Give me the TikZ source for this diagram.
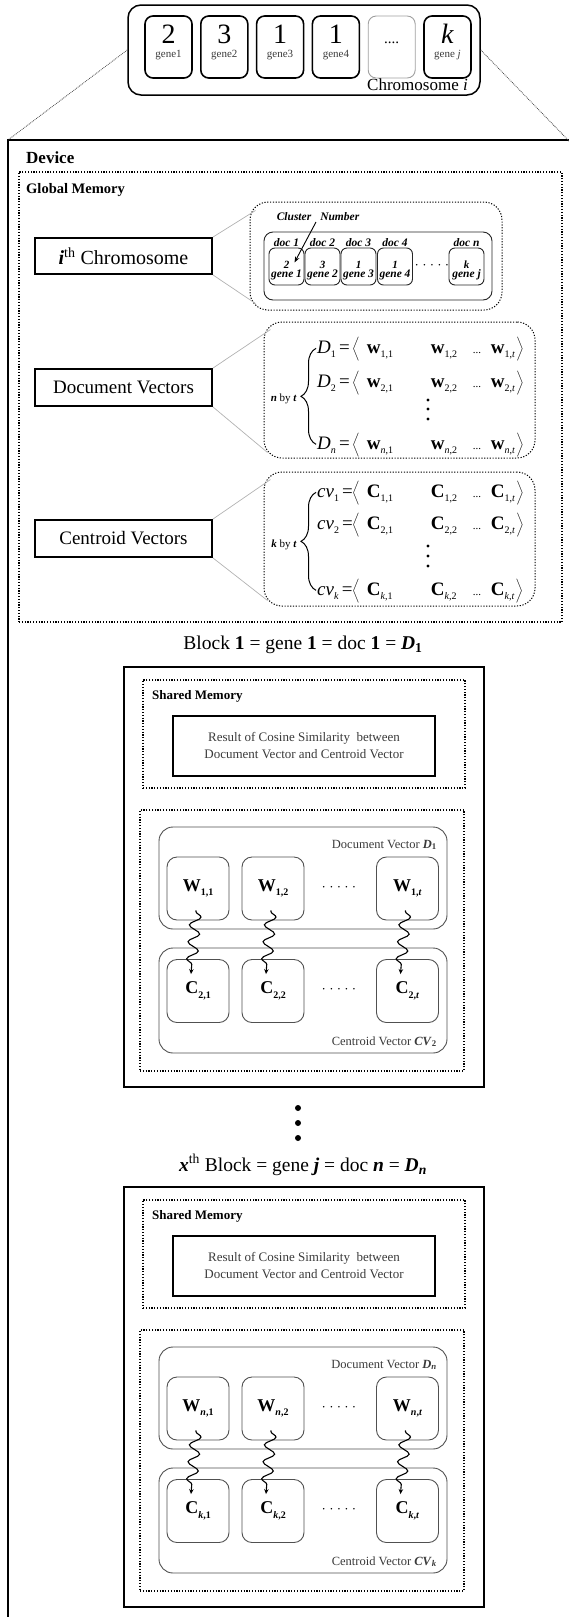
\documentclass[tikz,border=0pt]{standalone}
\usepackage{fontspec}
\setmainfont{Liberation Serif}
\usepackage{tikz}
\usetikzlibrary{arrows.meta,calc,positioning,decorations.pathmorphing,decorations.pathreplacing}
\definecolor{boxgray}{HTML}{505050}
\definecolor{txtgray}{HTML}{3A3A3A}
\newcommand{\fsz}[1]{\fontsize{#1}{#1}\selectfont}
\newcommand{\lsub}[1]{\raisebox{-0.25em}{\fsz{10}#1}}
\newcommand{\vrow}[4]{\makebox[35pt][l]{#1}$\left\langle\rule[-7pt]{0pt}{24pt}\right.$\hspace{6pt}\makebox[64pt][l]{#2}\makebox[42pt][l]{#3}\makebox[18pt][l]{\fsz{11}...}#4$\left.\rule[-7pt]{0pt}{24pt}\right\rangle$}

\begin{document}
\begin{tikzpicture}[x=1pt, y=-1pt,
    solidbox/.style={draw, line width=1.5pt, inner sep=0pt},
    dotbox/.style={draw, line width=1.1pt, dash pattern=on 1.2pt off 1.6pt, inner sep=0pt},
    genebox/.style={draw, line width=1.6pt, rounded corners=8pt, minimum width=47, minimum height=62, inner sep=0pt},
    dotgene/.style={genebox, draw=gray!75, line width=0.9pt},
    roundbox/.style={draw=boxgray, line width=0.9pt, rounded corners=#1, inner sep=0pt},
    roundbox/.default=12pt,
    ccell/.style={roundbox=6pt, draw=black!85, minimum width=35, minimum height=37},
    vcell/.style={roundbox=10pt, minimum width=62, minimum height=63, font=\fsz{18}\bfseries},
    zoomline/.style={draw=gray!60, line width=0.7pt},
    zoomdots/.style={draw=black!75, line width=0.8pt, dash pattern=on 0.8pt off 1pt},
    snk/.style={-{Stealth[length=5pt,width=4.5pt]}, line width=1.1pt, decorate,
      decoration={snake, amplitude=5.5pt, segment length=17pt, pre length=1pt, post length=3pt}},
    brc/.style={line width=1pt, decorate, decoration={brace, amplitude=15pt}},
    lbl/.style={inner sep=0pt, font=#1},
    vdot/.style={circle, fill, inner sep=0pt, minimum size=#1},
    sz/.style 2 args={minimum width=#1, minimum height=#2}]
\useasboundingbox (0,0) rectangle (569,1617);

% chromosome i
\node[solidbox, rounded corners=13pt, sz={352}{90}] (chrom) at (304,50) {};
\foreach \val/\g/\st [count=\i] in {2/gene1/genebox, 3/gene2/genebox, 1/gene3/genebox, 1/gene4/genebox,
    {\fsz{15}....}/{}/dotgene, {\textit{k}}/{gene \textit{j}}/genebox} {
  \node[\st] (gb\i) at ({168.5+55.8*(\i-1)},47) {};
  \node[lbl=\fsz{28}, anchor=base] (gv\i) at ($(gb\i.center)+(0,-4)$) {\val};
  \node[lbl=\fsz{11}, text=txtgray, anchor=base] (gl\i) at ($(gb\i.center)+(0,10)$) {\g};
}
\node[lbl=\fsz{17}, anchor=base east] (chromlbl) at (468,90) {Chromosome \textit{i}};

% device
\coordinate (devtl) at (8,140);
\coordinate (devtr) at (569,141);
\draw[line width=1.4pt] (585,140) -- (devtl) -- (8,1640);
\draw[zoomdots] (chrom.west) -- (devtl);
\draw[zoomdots] (chrom.east) -- (devtr);
\node[lbl=\fsz{17}\bfseries, anchor=base west] (device) at (26,163) {Device};

% global memory
\node[dotbox, sz={543}{450}] (gmem) at (290.5,397) {};
\node[lbl=\fsz{14.5}\bfseries, anchor=base west] (gmemlbl) at (26,193) {Global Memory};

\node[solidbox, line width=1.8pt, sz={177}{36}, font=\fsz{20}] (ichrom) at (123.5,256) {\textbf{\textit{i}}\textsuperscript{th} Chromosome};
\node[dotbox, line width=1pt, rounded corners=18pt, sz={252}{108}] (chromz) at (376,256) {};
\node[roundbox=9pt, draw=black!85, sz={228}{68}] (chromrow) at (378,266) {};
\draw[zoomline] (ichrom.north east) -- ($(chromz.north west)+(6,9)$);
\draw[zoomline] (ichrom.south east) -- ($(chromz.south west)+(6,-7)$);
\foreach \dc/\val/\g/\x [count=\i] in {{doc 1}/2/{gene 1}/286.5, {doc 2}/3/{gene 2}/322.5,
    {doc 3}/1/{gene 3}/358.5, {doc 4}/1/{gene 4}/395, {doc n}/k/{gene j}/466.5} {
  \node[ccell] (g\i) at (\x,266.5) {};
  \node[lbl=\fsz{11.5}\bfseries\itshape, anchor=base] (dl\i) at (\x,246) {\dc};
  \node[lbl=\fsz{11}\bfseries\itshape, anchor=base] (gn\i) at (\x,268) {\val};
  \node[lbl=\fsz{11.5}\bfseries\itshape, anchor=base] (gg\i) at (\x,277) {\g};
}
\node[lbl=\fsz{13}] (gdots) at (432,267) {· · · · ·};
\node[lbl=\fsz{11.5}\bfseries\itshape] (clus) at (318,217) {Cluster\hspace{9pt}Number};
\coordinate (clarr) at (316,222);
\draw[-{Stealth[length=6pt,width=4.5pt]}, line width=0.9pt] (clarr) -- ($(g1.center)+(8,-4)$);

% document vectors
\node[solidbox, line width=1.8pt, sz={177}{37}, font=\fsz{19}] (docv) at (123.5,387.5) {Document Vectors};
\node[dotbox, line width=1pt, rounded corners=18pt, sz={271}{136}] (docz) at (399.5,390) {};
\draw[zoomline] (docv.north east) -- ($(docz.north west)+(7,8)$);
\draw[zoomline] (docv.south east) -- ($(docz.south west)+(4,-6)$);
\foreach \lh/\wa/\wb/\wc/\yy [count=\rr] in {
    {\textit{D}\lsub{1}\,=}/{\textbf{w}\lsub{1,1}}/{\textbf{w}\lsub{1,2}}/{\textbf{w}\lsub{1,\textit{t}}}/353,
    {\textit{D}\lsub{2}\,=}/{\textbf{w}\lsub{2,1}}/{\textbf{w}\lsub{2,2}}/{\textbf{w}\lsub{2,\textit{t}}}/387,
    {\textit{D}\lsub{\textit{n}}\,=}/{\textbf{w}\lsub{\textit{n},1}}/{\textbf{w}\lsub{\textit{n},2}}/{\textbf{w}\lsub{\textit{n},\textit{t}}}/449}
  \node[lbl=\fsz{19}, anchor=base west] (dr\rr) at (317,\yy) {\vrow{\lh}{\wa}{\wb}{\wc}};
\foreach \yy [count=\kk] in {400,409,419}
  \node[vdot=3.4pt] (ddot\kk) at (428,\yy) {};
\draw[brc] ($(dr3.west)+(-1,0)$) -- ($(dr1.west)+(-1,0)$);
\node[lbl=\fsz{11}, anchor=east] (dnbt) at (297,399) {\textbf{\textit{n}} by \textbf{\textit{t}}};

% centroid vectors
\node[solidbox, line width=1.8pt, sz={177}{37}, font=\fsz{19}] (cenv) at (123.5,538.5) {Centroid Vectors};
\node[dotbox, line width=1pt, rounded corners=18pt, sz={271}{134}] (cenz) at (399.5,539) {};
\draw[zoomline] (cenv.north east) -- ($(cenz.north west)+(7,8)$);
\draw[zoomline] (cenv.south east) -- ($(cenz.south west)+(4,-6)$);
\foreach \lh/\wa/\wb/\wc/\yy [count=\rr] in {
    {\textit{cv}\lsub{1}\,=}/{\textbf{C}\lsub{1,1}}/{\textbf{C}\lsub{1,2}}/{\textbf{C}\lsub{1,\textit{t}}}/497,
    {\textit{cv}\lsub{2}\,=}/{\textbf{C}\lsub{2,1}}/{\textbf{C}\lsub{2,2}}/{\textbf{C}\lsub{2,\textit{t}}}/529,
    {\textit{cv}\lsub{\textit{k}}\,=}/{\textbf{C}\lsub{\textit{k},1}}/{\textbf{C}\lsub{\textit{k},2}}/{\textbf{C}\lsub{\textit{k},\textit{t}}}/595}
  \node[lbl=\fsz{19}, anchor=base west] (cr\rr) at (317,\yy) {\vrow{\lh}{\wa}{\wb}{\wc}};
\foreach \yy [count=\kk] in {546,556,566}
  \node[vdot=3.4pt] (cdot\kk) at (428,\yy) {};
\draw[brc] ($(cr3.west)+(-1,0)$) -- ($(cr1.west)+(-1,0)$);
\node[lbl=\fsz{11}, anchor=east] (cnbt) at (297,545) {\textbf{\textit{k}} by \textbf{\textit{t}}};

% blocks
\foreach \off/\ttl/\dl/\cl/\wrow/\crow [count=\bk] in {
    0/{Block \textbf{1} = gene \textbf{1} = doc \textbf{1} = \textbf{\textit{D}\textsubscript{1}}}/{\textbf{\textit{D}}\textsubscript{\textbf{1}}}/{\textbf{\textit{CV}}\textsubscript{\textbf{2}}}/1/2,
    520/{\textbf{\textit{x}}\textsuperscript{th} Block = gene \textbf{\textit{j}} = doc \textbf{\textit{n}} = \textbf{\textit{D}\textsubscript{\textit{n}}}}/{\textbf{\textit{D}}\textsubscript{\textbf{\textit{n}}}}/{\textbf{\textit{CV}}\textsubscript{\textbf{\textit{k}}}}/\textit{n}/\textit{k}} {
  \node[lbl=\fsz{19.5}] (ttl\bk) at (303,645+\off) {\ttl};
  \node[solidbox, line width=1.4pt, sz={360}{420}] (blk\bk) at (304,877+\off) {};
  \node[dotbox, sz={322}{108}] (shm\bk) at (304,734+\off) {};
  \node[lbl=\fsz{13}\bfseries, anchor=base west] (shmlbl\bk) at (152,699+\off) {Shared Memory};
  \node[solidbox, line width=1.4pt, sz={262}{60}, align=center, font=\fontsize{13}{17}\selectfont, text=txtgray] (res\bk) at (304,746+\off)
    {Result of Cosine Similarity\ \ between\\Document Vector and Centroid Vector};
  \node[dotbox, sz={324}{261}] (vecm\bk) at (302,940.5+\off) {};
  \node[roundbox=14pt, sz={288}{102}] (docb\bk) at (303,878+\off) {};
  \node[lbl=\fsz{12.5}, text=txtgray, anchor=base east] (docblbl\bk) at (437,848+\off) {Document Vector \dl};
  \node[roundbox=14pt, sz={288}{105}] (cenb\bk) at (303,1000.5+\off) {};
  \node[lbl=\fsz{12.5}, text=txtgray, anchor=base east] (cenblbl\bk) at (437,1045+\off) {Centroid Vector \cl};
  \foreach \x/\jj/\sb in {198/1/1, 273/2/2, 407.5/3/\textit{t}} {
    \node[vcell] (w\bk\jj) at (\x,888.5+\off) {W\lsub{\wrow,\sb}};
    \node[vcell] (c\bk\jj) at (\x,991+\off) {C\lsub{\crow,\sb}};
    \draw[snk] ($(w\bk\jj.south)+(-2,-10)$) -- ($(c\bk\jj.north)+(-7,15)$);
  }
  \node[lbl=\fsz{13}] (wdots\bk) at (339,889+\off) {· · · · ·};
  \node[lbl=\fsz{13}] (cdots\bk) at (339,991+\off) {· · · · ·};
}
\foreach \yy [count=\kk] in {1108,1123,1138}
  \node[vdot=6pt] (bdot\kk) at (298,\yy) {};
\end{tikzpicture}
\end{document}
